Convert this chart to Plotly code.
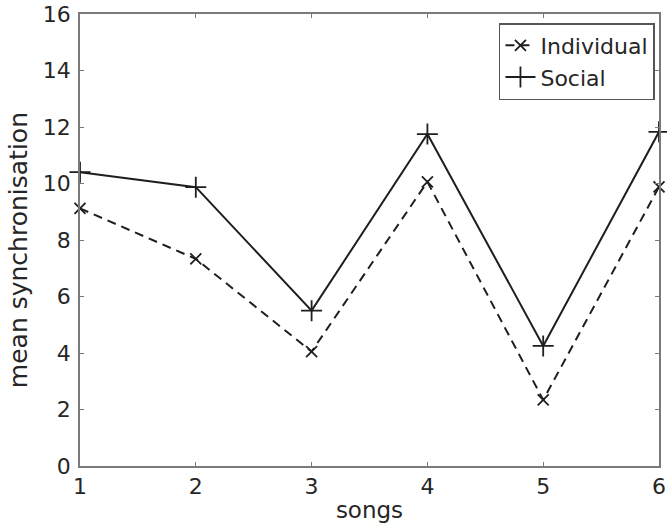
import plotly.graph_objects as go

songs = [1, 2, 3, 4, 5, 6]
individual = [9.12, 7.33, 4.05, 10.06, 2.34, 9.88]
social = [10.40, 9.87, 5.50, 11.75, 4.25, 11.83]
y_ticks = [0, 2, 4, 6, 8, 10, 12, 14, 16]

font_family = "DejaVu Sans, Liberation Sans, Arial, sans-serif"
ink = "#1e1e1e"
text_col = "#262626"

fig = go.Figure()
fig.add_trace(go.Scatter(
    x=songs, y=individual, name="Individual", mode="lines+markers",
    line=dict(color=ink, width=2, dash="9px,6px"),
    marker=dict(symbol="x-thin", size=11, line=dict(color=ink, width=1.8)),
    cliponaxis=False,
))
fig.add_trace(go.Scatter(
    x=songs, y=social, name="Social", mode="lines+markers",
    line=dict(color=ink, width=2),
    marker=dict(symbol="cross-thin", size=15, line=dict(color=ink, width=1.8)),
    cliponaxis=False,
))

axis_common = dict(
    showgrid=False, zeroline=False, showline=True, linecolor="#7a7a7a", linewidth=1.5,
    mirror="allticks", ticks="inside", ticklen=4, tickcolor="#7a7a7a",
    tickfont=dict(family=font_family, size=22, color=text_col),
    ticklabeloverflow="allow",
)

fig.update_layout(
    width=667, height=529,
    margin=dict(l=80, r=1, t=14, b=63),
    paper_bgcolor="white", plot_bgcolor="white",
    font=dict(family=font_family, color=text_col),
    xaxis=dict(range=[1, 6], tickvals=songs, ticklabelstandoff=0,
               title=dict(text="songs", font=dict(size=23), standoff=4), **axis_common),
    yaxis=dict(range=[0, 16], tickvals=y_ticks, ticklabelstandoff=3, **axis_common),
    legend=dict(x=0.993, y=0.98, xanchor="right", yanchor="top",
                bordercolor="#555555", borderwidth=1.5, bgcolor="white",
                font=dict(size=22, family=font_family, color=text_col), tracegroupgap=0,
                itemwidth=30),
    showlegend=True,
)

fig.add_annotation(
    text="mean synchronisation", textangle=-90,
    xref="paper", yref="paper", x=-0.105, y=0.478,
    xanchor="center", yanchor="middle", showarrow=False,
    font=dict(size=25, family=font_family, color=text_col),
)

fig.write_html("out.html")
